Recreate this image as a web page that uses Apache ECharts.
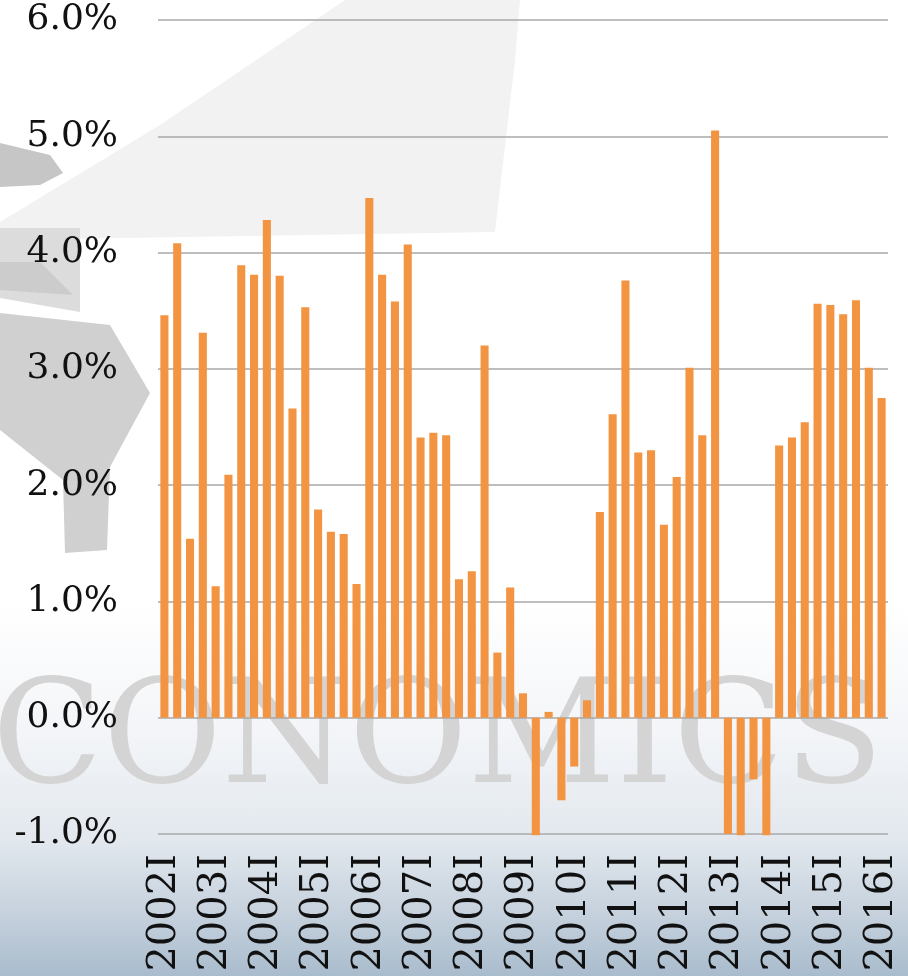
<!DOCTYPE html>
<html>
<head>
<meta charset="utf-8">
<script src="https://cdn.jsdelivr.net/npm/echarts@6/dist/echarts.min.js"></script>
<style>
  html, body { margin: 0; padding: 0; }
  body {
    width: 908px; height: 976px; overflow: hidden; position: relative;
    background: linear-gradient(to bottom, #ffffff 0%, #ffffff 62%, #f3f5f8 75%, #e2e8ee 86%, #c4d0dc 94%, #a9bccd 100%);
  }
  .layer { position: absolute; left: 0; top: 0; width: 908px; height: 976px; }
</style>
</head>
<body>
<div id="watermark" class="layer"></div>
<div id="chart" class="layer"></div>
<script>
// quarters 2002I .. 2016I
const years = [2002, 2003, 2004, 2005, 2006, 2007, 2008, 2009, 2010, 2011, 2012, 2013, 2014, 2015, 2016]
const quarters = ['I', 'II', 'III', 'IV']
const categories = []
years.forEach((y) => quarters.forEach((q) => { if (y < 2016 || q === 'I') categories.push(y + q) }))

// growth rate, %
const values = [
  3.46, 4.08, 1.54, 3.31, 1.13, 2.09, 3.89, 3.81, 4.28, 3.80, 2.66, 3.53, 1.79, 1.60, 1.58, 1.15,
  4.47, 3.81, 3.58, 4.07, 2.41, 2.45, 2.43, 1.19, 1.26, 3.20, 0.56, 1.12, 0.21, -1.01, 0.05, -0.71,
  -0.42, 0.15, 1.77, 2.61, 3.76, 2.28, 2.30, 1.66, 2.07, 3.01, 2.43, 5.05, -1.00, -1.01, -0.53, -1.01,
  2.34, 2.41, 2.54, 3.56, 3.55, 3.47, 3.59, 3.01, 2.75,
]

const yTicks = { min: -1, max: 6, step: 1 }

const font = 'DejaVu Serif'

// background watermark, its own instance so it stays under the plot
const wm = echarts.init(document.getElementById('watermark'))
wm.setOption({
  backgroundColor: 'transparent',
  animation: false,
  graphic: [
    {
      type: 'polygon',
      shape: { points: [[0, 222], [160, 125], [345, 0], [520, 0], [515, 60], [495, 232], [0, 240]] },
      style: { fill: '#f2f2f2' },
    },
    {
      type: 'polygon',
      shape: { points: [[0, 143], [50, 155], [63, 173], [40, 185], [0, 187]] },
      style: { fill: '#c6c6c6' },
    },
    {
      type: 'polygon',
      shape: { points: [[0, 228], [80, 228], [80, 312], [0, 298]] },
      style: { fill: '#dcdcdc' },
    },
    {
      type: 'polygon',
      shape: { points: [[0, 262], [40, 262], [73, 295], [0, 290]] },
      style: { fill: '#cccccc' },
    },
    {
      type: 'polygon',
      shape: { points: [[0, 313], [110, 325], [150, 393], [110, 467], [107, 550], [65, 553], [63, 480], [0, 430]] },
      style: { fill: '#d0d0d0' },
    },
    {
      type: 'text', left: -8, top: 672,
      style: { text: 'CONOMICS', font: '145px "DejaVu Serif"', fill: '#d4d4d4' },
    },
  ],
})

const chart = echarts.init(document.getElementById('chart'))
chart.setOption({
  backgroundColor: 'transparent',
  animation: false,
  grid: { left: 158, right: 20, top: 20, bottom: 142 },
  xAxis: {
    type: 'category',
    data: categories,
    axisLine: { show: false, onZero: false },
    axisTick: { show: false },
    axisLabel: {
      interval: 3,
      rotate: 90,
      margin: 20,
      fontFamily: font,
      fontSize: 40,
      color: '#111',
    },
  },
  yAxis: {
    type: 'value',
    min: yTicks.min,
    max: yTicks.max,
    interval: yTicks.step,
    axisLine: { show: false },
    axisTick: { show: false },
    axisLabel: {
      margin: 40,
      fontFamily: font,
      fontSize: 36,
      color: '#111',
      formatter: (v) => v.toFixed(1) + '%',
    },
    splitLine: { lineStyle: { color: '#a9a9a9', width: 1.5 } },
  },
  series: [
    {
      type: 'bar',
      data: values,
      barCategoryGap: '37%',
      clip: false,
      itemStyle: { color: '#f29441' },
    },
  ],
})
</script>
</body>
</html>
